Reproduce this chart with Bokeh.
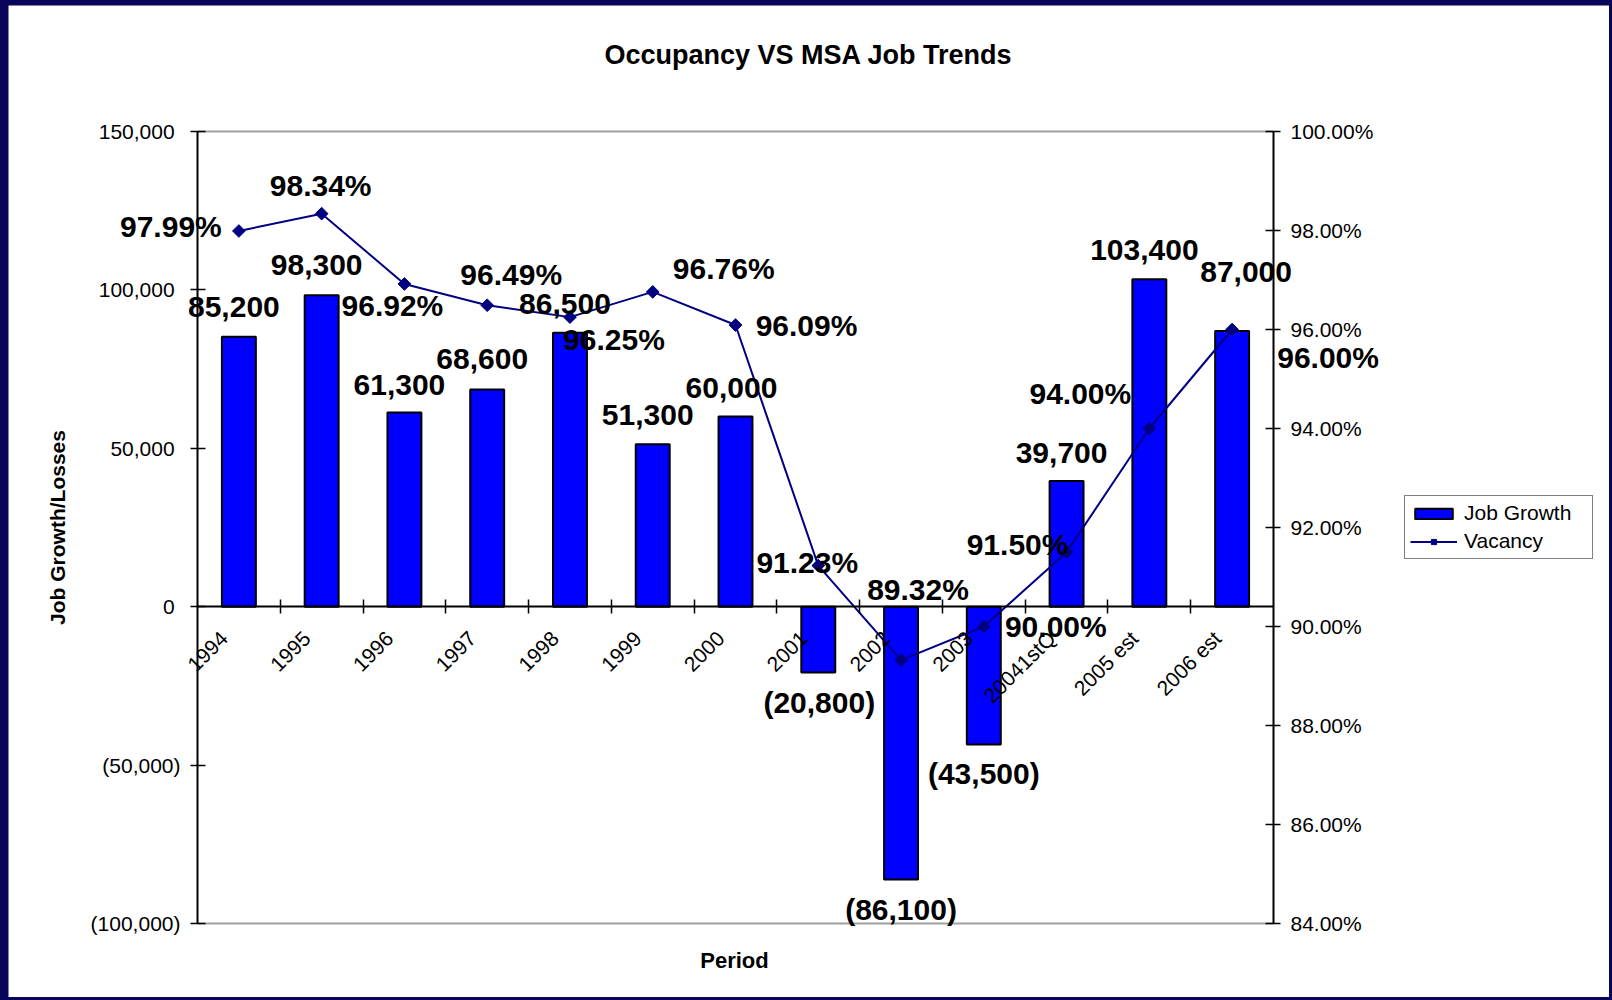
from math import pi

from bokeh.plotting import figure
from bokeh.models import (ColumnDataSource, Range1d, LinearAxis, FixedTicker,
                          NumeralTickFormatter, PrintfTickFormatter, Legend, LegendItem,
                          Label, LabelSet, GlobalInlineStyleSheet)
from bokeh.core.properties import value
from bokeh.embed import file_html
from bokeh.resources import INLINE

# ---------------- data ----------------
periods = ["1994", "1995", "1996", "1997", "1998", "1999", "2000", "2001", "2002",
           "2003", "20041stQ", "2005 est", "2006 est"]
job_growth = [85200, 98300, 61300, 68600, 86500, 51300, 60000, -20800, -86100,
              -43500, 39700, 103400, 87000]
vacancy = [97.99, 98.34, 96.92, 96.49, 96.25, 96.76, 96.09, 91.23, 89.32,
           90.00, 91.50, 94.00, 96.00]
job_ticks = [-100000, -50000, 0, 50000, 100000, 150000]
pct_ticks = [84, 86, 88, 90, 92, 94, 96, 98, 100]

# ---------------- label placement (screen px, +y = up) ----------------
bar_dx = [-5, -5, -5, -5, -5, -5, -4, 1, 0, 0, -5, -5, 14]
bar_dy = [30, 30, 28, 30, 29, 29, 29, -30, -30, -29, 28, 29, 59]
pct_dx = [-68, -1, -12, 24, 44, 71, 71, -11, 17, 72, -49, -69, 96]
pct_dy = [4, 28, -22, 31, -22, 23, 0, 3, 71, 0, 8, 35, -28]

# ---------------- layout (page px) ----------------
W, H = 1609, 997
FRAME_L, FRAME_T, FRAME_R, FRAME_B = 8, 5, W, H
BOX_L, BOX_R, BOX_T, BOX_B = 197, 1273, 131, 923
LABEL_SHIFT = 0.18           # category-label anchor shift (in category widths)

FONT_NAME = "Liberation Sans"
FONT = value(FONT_NAME)
NAVY = "#000080"
PAGE_BG = "#08055a"

n = len(periods)
ppu = (BOX_R - BOX_L) / n                      # px per category
box_h = BOX_B - BOX_T
j_lo, j_hi = job_ticks[0], job_ticks[-1]
v_lo, v_hi = pct_ticks[0], pct_ticks[-1]
jpp = (j_hi - j_lo) / box_h                    # jobs per px
vpp = (v_hi - v_lo) / box_h                    # pct per px

x_range = Range1d(-(BOX_L - FRAME_L) / ppu, n + (FRAME_R - BOX_R) / ppu)
y_range = Range1d(j_lo - (FRAME_B - BOX_B) * jpp, j_hi + (BOX_T - FRAME_T) * jpp)
pct_range = Range1d(v_lo - (FRAME_B - BOX_B) * vpp, v_hi + (BOX_T - FRAME_T) * vpp)

centers = [i + 0.5 for i in range(n)]
boundaries = [float(i) for i in range(1, n)]


def job_fmt(v):
    return f"{v:,}" if v >= 0 else f"({-v:,})"


src = ColumnDataSource(dict(
    xc=centers,
    period=periods,
    jobs=job_growth,
    vac=vacancy,
    job_label=[job_fmt(v) for v in job_growth],
    vac_label=[f"{v:.2f}%" for v in vacancy],
    bdx=bar_dx, bdy=bar_dy, pdx=pct_dx, pdy=pct_dy,
))

p = figure(
    x_range=x_range, y_range=y_range,
    frame_width=FRAME_R - FRAME_L, frame_height=FRAME_B - FRAME_T,
    min_border_left=FRAME_L, min_border_top=FRAME_T, min_border_right=0, min_border_bottom=0,
    x_axis_location=None, y_axis_location=None,
    output_backend="svg", toolbar_location=None, tools="",
    background_fill_color="white", border_fill_color=PAGE_BG,
)
p.stylesheets = [GlobalInlineStyleSheet(css=f"html, body {{ background-color: {PAGE_BG}; }}")]
p.extra_y_ranges = {"pct": pct_range}
p.outline_line_color = None
p.xgrid.visible = False
p.ygrid.visible = False


def style_tick_axis(ax):
    ax.axis_line_color = "black"
    ax.axis_line_width = 2
    ax.major_tick_line_color = "black"
    ax.major_tick_line_width = 1.5
    ax.major_label_text_font = FONT_NAME
    ax.major_label_text_color = "black"


# left axis (job growth); positive labels keep a ")"-wide pad like accounting format
yl = LinearAxis(fixed_location=0, bounds=(j_lo, j_hi),
                ticker=FixedTicker(ticks=job_ticks),
                formatter=NumeralTickFormatter(format="(0,0)"),
                major_label_overrides={float(t): job_fmt(t) + ("\u2008" if t >= 0 else "")
                                       for t in job_ticks})
# right axis (vacancy %)
yr = LinearAxis(fixed_location=n, y_range_name="pct", bounds=(v_lo, v_hi),
                ticker=FixedTicker(ticks=pct_ticks),
                formatter=PrintfTickFormatter(format="%.2f%%"))
for ax in (yl, yr):
    style_tick_axis(ax)
    ax.major_tick_in = 8
    ax.major_tick_out = 7
    ax.minor_tick_line_color = None
    ax.major_label_text_font_size = "21px"
    ax.major_label_standoff = 10
p.add_layout(yl, "left")
p.add_layout(yr, "right")

# top / bottom border lines of the plot box
for loc, side in ((j_hi, "above"), (j_lo, "below")):
    bx = LinearAxis(fixed_location=loc, bounds=(0, n), ticker=FixedTicker(ticks=[]))
    bx.axis_line_color = "#a0a0a0"
    bx.axis_line_width = 2
    bx.major_tick_line_color = None
    bx.minor_tick_line_color = None
    bx.major_label_text_font_size = "0px"
    p.add_layout(bx, side)

# bars
bars = p.vbar(x="xc", top="jobs", bottom=0, width=0.41, source=src,
              fill_color="#0000ff", line_color="black", line_width=2)

# category axis along the zero line
xa = LinearAxis(fixed_location=0, bounds=(0, n),
                ticker=FixedTicker(ticks=[c - LABEL_SHIFT for c in centers],
                                   minor_ticks=boundaries),
                major_label_overrides={c - LABEL_SHIFT: name
                                       for c, name in zip(centers, periods)})
style_tick_axis(xa)
xa.major_tick_in = 0
xa.major_tick_out = 0
xa.minor_tick_line_color = "black"
xa.minor_tick_line_width = 1.5
xa.minor_tick_in = 7
xa.minor_tick_out = 7
xa.major_label_orientation = pi / 4
xa.major_label_standoff = 21
xa.major_label_text_font_size = "21px"
p.add_layout(xa, "below")

# vacancy line
line = p.line(x="xc", y="vac", source=src, y_range_name="pct",
              line_color=NAVY, line_width=2)
marks = p.scatter(x="xc", y="vac", source=src, y_range_name="pct",
                  marker="square", angle=pi / 4, size=9,
                  fill_color=NAVY, line_color=NAVY)

# data labels
p.add_layout(LabelSet(x="xc", y="jobs", text="job_label", source=src,
                      x_offset="bdx", y_offset="bdy",
                      text_align="center", text_baseline="middle",
                      text_font=FONT, text_font_style="bold", text_font_size="30px",
                      text_color="black"))
p.add_layout(LabelSet(x="xc", y="vac", text="vac_label", source=src,
                      y_range_name="pct", x_offset="pdx", y_offset="pdy",
                      text_align="center", text_baseline="middle",
                      text_font=FONT, text_font_style="bold", text_font_size="30px",
                      text_color="black"))

# title and axis titles (screen px from the frame's bottom-left)
p.add_layout(Label(x=808 - FRAME_L, y=FRAME_B - 54, x_units="screen", y_units="screen",
                   text="Occupancy VS MSA Job Trends", text_align="center",
                   text_baseline="middle", text_font=FONT_NAME, text_font_style="bold",
                   text_font_size="27px", text_color="black"))
p.add_layout(Label(x=734 - FRAME_L, y=FRAME_B - 960, x_units="screen", y_units="screen",
                   text="Period", text_align="center", text_baseline="middle",
                   text_font=FONT_NAME, text_font_style="bold", text_font_size="22px",
                   text_color="black"))
p.add_layout(Label(x=57 - FRAME_L, y=FRAME_B - 527, x_units="screen", y_units="screen",
                   text="Job Growth/Losses", angle=pi / 2, text_align="center",
                   text_baseline="middle", text_font=FONT_NAME, text_font_style="bold",
                   text_font_size="21px", text_color="black"))

# legend
legend = Legend(items=[LegendItem(label="Job Growth", renderers=[bars]),
                       LegendItem(label="Vacancy", renderers=[line, marks])],
                location=(1404 - FRAME_L, FRAME_B - 559))
legend.border_line_color = "black"
legend.border_line_width = 1
legend.background_fill_color = "white"
legend.background_fill_alpha = 1
legend.label_text_font = FONT_NAME
legend.label_text_font_size = "21px"
legend.label_text_color = "black"
legend.glyph_width = 47
legend.glyph_height = 13
legend.label_height = 24
legend.label_width = 123
legend.label_standoff = 7
legend.padding = 5
legend.spacing = 4
legend.margin = 0
p.add_layout(legend)

open("out.html", "w").write(file_html(p, INLINE))
